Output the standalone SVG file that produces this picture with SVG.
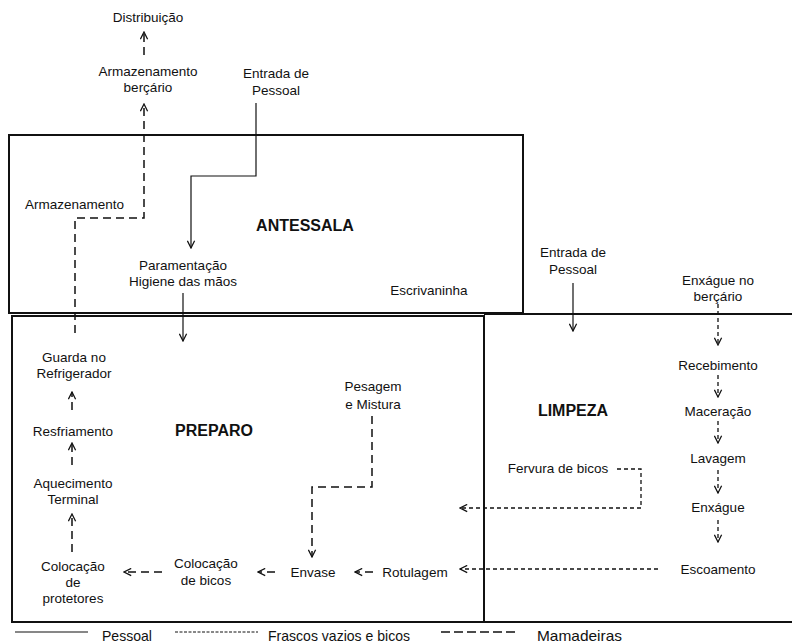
<svg xmlns="http://www.w3.org/2000/svg" width="792" height="643" viewBox="0 0 792 643">
  <style>
    text { font-family: "Liberation Sans", Arial, sans-serif; font-size: 13.5px; fill: #111; }
    .mid { text-anchor: middle; }
    .room { font-weight: bold; font-size: 16px; }
    .wall { fill: none; stroke: #111; stroke-width: 2; }
    .pes { fill: none; stroke: #111; stroke-width: 1.2; }
    .fra { fill: none; stroke: #111; stroke-width: 1.3; stroke-dasharray: 4 3; }
    .mam { fill: none; stroke: #111; stroke-width: 1.5; stroke-dasharray: 8 5; }
    .legend text { font-size: 14.5px; }
  </style>
  <defs>
    <marker id="head" viewBox="0 0 10 10" refX="9" refY="5" markerWidth="9" markerHeight="9" markerUnits="userSpaceOnUse" orient="auto">
      <path d="M1,1 L9,5 L1,9" fill="none" stroke="#111" stroke-width="1.4" stroke-dasharray="none"/>
    </marker>
  </defs>
  <rect width="792" height="643" fill="#fff"/>

  <!-- rooms -->
  <g id="antessala">
    <rect class="wall" x="9" y="135" width="514" height="178"/>
    <text class="room mid" x="305" y="231">ANTESSALA</text>
  </g>
  <g id="preparo">
    <rect class="wall" x="12" y="316" width="472" height="306"/>
    <text class="room mid" x="214" y="436">PREPARO</text>
  </g>
  <g id="limpeza">
    <path class="wall" d="M484,314 H800 M484,316 V622 H800"/>
    <text class="room mid" x="573" y="416">LIMPEZA</text>
  </g>

  <!-- outside -->
  <g id="distribuicao"><text class="mid" x="148" y="22">Distribuição</text></g>
  <g id="armazenamento-bercario">
    <text class="mid" x="148" y="76">Armazenamento</text>
    <text class="mid" x="148" y="92">berçário</text>
  </g>
  <g id="entrada-pessoal-1">
    <text class="mid" x="276" y="78">Entrada de</text>
    <text class="mid" x="276" y="95">Pessoal</text>
  </g>

  <!-- antessala -->
  <g id="armazenamento"><text x="25" y="209">Armazenamento</text></g>
  <g id="paramentacao">
    <text class="mid" x="183" y="270">Paramentação</text>
    <text class="mid" x="183" y="286">Higiene das mãos</text>
  </g>
  <g id="escrivaninha"><text class="mid" x="429" y="295">Escrivaninha</text></g>

  <!-- preparo -->
  <g id="guarda">
    <text class="mid" x="74" y="362">Guarda no</text>
    <text class="mid" x="74" y="378">Refrigerador</text>
  </g>
  <g id="resfriamento"><text class="mid" x="73" y="436">Resfriamento</text></g>
  <g id="aquecimento">
    <text class="mid" x="73" y="488">Aquecimento</text>
    <text class="mid" x="73" y="504">Terminal</text>
  </g>
  <g id="protetores">
    <text class="mid" x="73" y="571">Colocação</text>
    <text class="mid" x="73" y="587">de</text>
    <text class="mid" x="73" y="603">protetores</text>
  </g>
  <g id="bicos">
    <text class="mid" x="206" y="568">Colocação</text>
    <text class="mid" x="206" y="585">de bicos</text>
  </g>
  <g id="envase"><text class="mid" x="313" y="577">Envase</text></g>
  <g id="rotulagem"><text class="mid" x="415" y="577">Rotulagem</text></g>
  <g id="pesagem">
    <text class="mid" x="373" y="391">Pesagem</text>
    <text class="mid" x="373" y="409">e Mistura</text>
  </g>

  <!-- limpeza -->
  <g id="entrada-pessoal-2">
    <text class="mid" x="573" y="257">Entrada de</text>
    <text class="mid" x="573" y="274">Pessoal</text>
  </g>
  <g id="enxague-bercario">
    <text class="mid" x="718" y="285">Enxágue no</text>
    <text class="mid" x="718" y="301">berçário</text>
  </g>
  <g id="recebimento"><text class="mid" x="718" y="370">Recebimento</text></g>
  <g id="maceracao"><text class="mid" x="718" y="416">Maceração</text></g>
  <g id="lavagem"><text class="mid" x="718" y="463">Lavagem</text></g>
  <g id="enxague"><text class="mid" x="718" y="512">Enxágue</text></g>
  <g id="escoamento"><text class="mid" x="718" y="574">Escoamento</text></g>
  <g id="fervura"><text class="mid" x="558" y="473">Fervura de bicos</text></g>

  <!-- flows -->
  <g id="connectors">
    <!-- personnel -->
    <path class="pes" d="M256,103 V176 H191 V248" marker-end="url(#head)"/>
    <path class="pes" d="M183,293 V341" marker-end="url(#head)"/>
    <path class="pes" d="M573,283 V331" marker-end="url(#head)"/>
    <!-- empty bottles and nipples -->
    <path class="fra" d="M718,304 V345" marker-end="url(#head)"/>
    <path class="fra" d="M718,375 V397" marker-end="url(#head)"/>
    <path class="fra" d="M718,421 V443" marker-end="url(#head)"/>
    <path class="fra" d="M718,470 V493" marker-end="url(#head)"/>
    <path class="fra" d="M718,520 V542" marker-end="url(#head)"/>
    <path class="fra" d="M617,469 H641 V508 H460" marker-end="url(#head)"/>
    <path class="fra" d="M658,569 H460" marker-end="url(#head)"/>
    <!-- bottles -->
    <path class="mam" d="M144,55 V32" marker-end="url(#head)"/>
    <path class="mam" d="M75,333 V218 H144 V104" marker-end="url(#head)"/>
    <path class="mam" d="M72,552 V514" marker-end="url(#head)"/>
    <path class="mam" d="M72,465 V443" marker-end="url(#head)"/>
    <path class="mam" d="M72,410 V392" marker-end="url(#head)"/>
    <path class="mam" d="M372,416 V487 H312 V557" marker-end="url(#head)"/>
    <path class="mam" d="M373,572 H355" marker-end="url(#head)"/>
    <path class="mam" d="M275,572 H258" marker-end="url(#head)"/>
    <path class="mam" d="M162,572 H124" marker-end="url(#head)"/>
  </g>

  <!-- legend -->
  <g id="legend" class="legend">
    <path d="M15,632 H88" fill="none" stroke="#111" stroke-width="1.2"/>
    <text x="102" y="641" textLength="50" lengthAdjust="spacingAndGlyphs">Pessoal</text>
    <path d="M175,632 H258" fill="none" stroke="#111" stroke-width="1" stroke-dasharray="3 1.5"/>
    <text x="268" y="641" textLength="142" lengthAdjust="spacingAndGlyphs">Frascos vazios e bicos</text>
    <path d="M441,632 H515" fill="none" stroke="#111" stroke-width="1.3" stroke-dasharray="9 4"/>
    <text x="537" y="641" textLength="85" lengthAdjust="spacingAndGlyphs">Mamadeiras</text>
  </g>
</svg>
